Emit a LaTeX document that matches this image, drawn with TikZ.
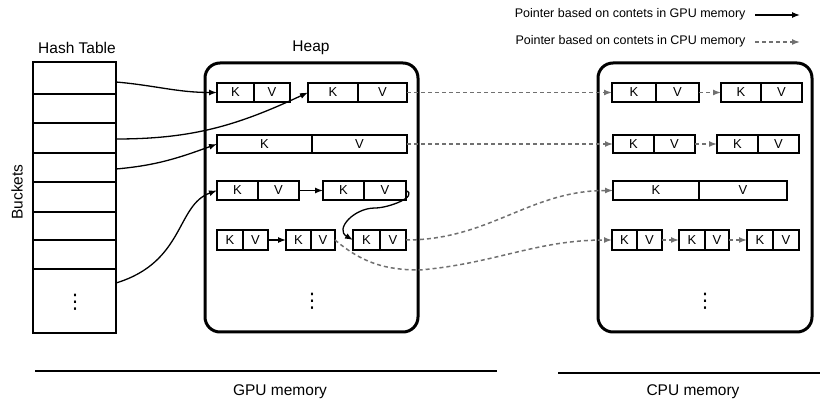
\documentclass[tikz,border=0pt]{standalone}
\usepackage{fontspec}
\setmainfont{Liberation Sans}
\newfontfamily\symbolfont{DejaVu Sans}
\usetikzlibrary{arrows.meta}
\definecolor{ptrgray}{HTML}{707070}

\tikzset{
  kv/.style={draw, line width=1.2pt, inner sep=0pt, outer sep=0pt,
             font=\fontsize{13}{15}\selectfont},
  bucket/.style={draw, line width=2.8pt, inner sep=0pt, outer sep=0pt,
                 minimum width=83pt},
  region/.style={draw, line width=3pt, rounded corners=15pt, inner sep=0pt,
                 outer sep=0pt},
  gpuptr/.style={line width=1.3pt, -{Latex[length=8pt,width=6pt]}},
  cpuptr/.style={ptrgray, line width=1.5pt, dash pattern=on 4pt off 3pt,
                 -{Latex[length=8pt,width=6pt]}},
  title/.style={font=\fontsize{15.5}{18}\selectfont},
  legendtext/.style={font=\fontsize{12.5}{15}\selectfont, anchor=east},
  dotsmark/.style={font=\symbolfont\fontsize{20}{22}\selectfont, inner sep=0pt},
  memline/.style={line width=2pt},
}

% one key/value entry: name, left x, divider x, right x, top y, bottom y
\newcommand\kvpair[6]{%
  \node[kv, minimum width={(#3-#2)*1pt}, minimum height={(#6-#5)*1pt}]
    (#1k) at ({(#2+#3)/2},{(#5+#6)/2}) {K};
  \node[kv, minimum width={(#4-#3)*1pt}, minimum height={(#6-#5)*1pt}]
    (#1v) at ({(#3+#4)/2},{(#5+#6)/2}) {V};
}
% one hash bucket: name, top y, bottom y
\newcommand\bucketrow[3]{%
  \node[bucket, minimum height={(#3-#2)*1pt}] (#1) at (74.5,{(#2+#3)/2}) {};
}

\begin{document}
\begin{tikzpicture}[x=1pt, y=-1pt]
\useasboundingbox (0,0) rectangle (820,406);

% ---------- hash table ----------
\node[title] (httitle) at (77,48) {Hash Table};
\node[title, rotate=90] (buckets) at (17,192) {Buckets};
\bucketrow{b0}{62}{94}
\bucketrow{b1}{94}{123}
\bucketrow{b2}{123}{153}
\bucketrow{b3}{153}{182}
\bucketrow{b4}{182}{212}
\bucketrow{b5}{212}{240}
\bucketrow{b6}{240}{269}
\bucketrow{b7}{269}{333}
\node[dotsmark] (bdots) at (75,302) {⋮};

% ---------- heap (GPU) ----------
\node[title] (heaptitle) at (311,48) {Heap};
\node[region, minimum width=213pt, minimum height=269pt] (heap) at (311.5,197.5) {};
\kvpair{ha}{217}{254}{290}{83}{102}
\kvpair{hb}{308}{358}{407}{83}{102}
\kvpair{hc}{217}{312}{407}{135}{153}
\kvpair{hd}{217}{258}{299}{181}{200}
\kvpair{he}{323}{364}{406}{181}{200}
\kvpair{hf}{217}{243}{268}{230}{250}
\kvpair{hg}{286}{311}{335}{230}{250}
\kvpair{hh}{353}{380}{406}{230}{250}
\node[dotsmark] (hdots) at (312,301) {⋮};

% ---------- CPU side ----------
\node[region, minimum width=214pt, minimum height=269pt] (cpu) at (705,197.5) {};
\kvpair{ca}{612}{656}{699}{83}{102}
\kvpair{cb}{721}{761}{802}{83}{102}
\kvpair{cc}{613}{654}{695}{135}{153}
\kvpair{cd}{717}{758}{799}{135}{153}
\kvpair{ce}{613}{699}{787}{181}{200}
\kvpair{cf}{612}{637}{662}{230}{250}
\kvpair{cg}{679}{705}{729}{230}{250}
\kvpair{ch}{747}{773}{799}{230}{250}
\node[dotsmark] (cdots) at (705,301) {⋮};

% ---------- bucket pointers ----------
\draw[gpuptr] ([yshift=-4pt]b0.east) to[out=-5,in=180] (hak.west);
\draw[gpuptr] ([yshift=-1pt]b2.east) to[out=0,in=205] (hbk.west);
\draw[gpuptr] ([yshift=-1.5pt]b3.east) to[out=5,in=200] (hck.west);
\draw[gpuptr] ([yshift=18pt]b7.east) .. controls (185,262) and (176,205) .. (hdk.west);

% ---------- chains inside the heap ----------
\draw[gpuptr] (hdv.east) -- (hek.west);
\coordinate (turn) at (375,208);
\draw[gpuptr] (hev.east) to[out=-25,in=0] (turn) to[out=180,in=150,looseness=1.4] (hhk.west);
\draw[gpuptr] (hfv.east) -- (hgk.west);

% ---------- pointers into CPU memory ----------
\draw[cpuptr] (hbv.east) -- (cak.west);
\draw[cpuptr] (hcv.east) -- (cck.west);
\draw[cpuptr] (hhv.east) to[out=0,in=180] (cek.west);
\coordinate (dip) at (420,270);
\draw[cpuptr] (hgv.east) to[out=-40,in=180] (dip) to[out=5,in=180] (cfk.west);

\draw[cpuptr] (cav.east) -- (cbk.west);
\draw[cpuptr] (ccv.east) -- (cdk.west);
\draw[cpuptr] (cfv.east) -- (cgk.west);
\draw[cpuptr] (cgv.east) -- (chk.west);

% ---------- legend ----------
\node[legendtext] (leg1) at (749,14) {Pointer based on contets in GPU memory};
\node[legendtext] (leg2) at (749,41) {Pointer based on contets in CPU memory};
\coordinate (l1a) at (755,15);
\coordinate (l1b) at (800,15);
\coordinate (l2a) at (755,42);
\coordinate (l2b) at (800,42);
\draw[gpuptr] (l1a) -- (l1b);
\draw[cpuptr] (l2a) -- (l2b);

% ---------- memory spans ----------
\coordinate (g0) at (35,371);
\coordinate (g1) at (497,371);
\coordinate (c0) at (558,373);
\coordinate (c1) at (820,373);
\draw[memline] (g0) -- (g1);
\draw[memline] (c0) -- (c1);
\node[title] (gpulabel) at (280,392) {GPU memory};
\node[title] (cpulabel) at (693,392) {CPU memory};
\end{tikzpicture}
\end{document}
